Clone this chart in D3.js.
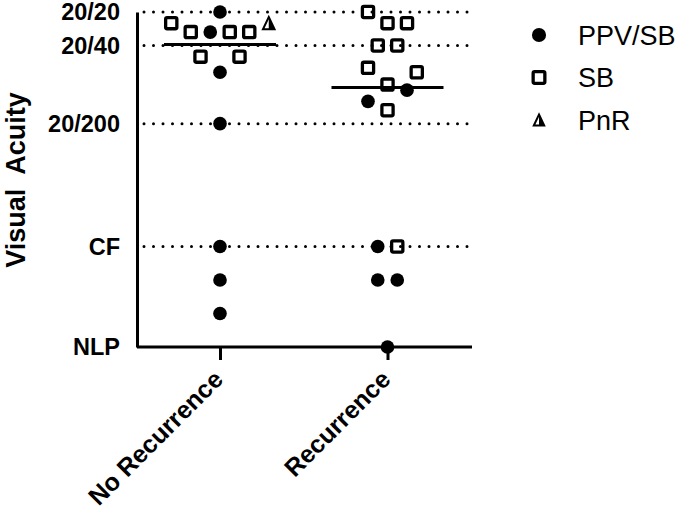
<!DOCTYPE html>
<html>
<head>
<meta charset="utf-8">
<script src="https://cdn.jsdelivr.net/npm/d3@7"></script>
<style>
	body { margin: 0; background: #fff; }
	svg { font-family: "Liberation Sans", Arial, sans-serif; }
</style>
</head>
<body>
<svg id="chart" width="680" height="509"></svg>
<script>
// groups on the x axis
const groups = ["No Recurrence", "Recurrence"];

// acuity scale in logMAR, with the labelled levels
const acuityTicks = [0, 0.3, 1.0, 2.1, 3.0];
const acuityLabels = ["20/20", "20/40", "20/200", "CF", "NLP"];
const gridLevels = [0, 0.3, 1.0, 2.1];

// one row per eye: group, logMAR value, treatment, jitter slot
const pointGroup = [
	"No Recurrence", "No Recurrence", "No Recurrence", "No Recurrence", "No Recurrence",
	"No Recurrence", "No Recurrence", "No Recurrence", "No Recurrence", "No Recurrence",
	"No Recurrence", "No Recurrence", "No Recurrence", "No Recurrence",
	"Recurrence", "Recurrence", "Recurrence", "Recurrence", "Recurrence", "Recurrence",
	"Recurrence", "Recurrence", "Recurrence", "Recurrence", "Recurrence", "Recurrence",
	"Recurrence", "Recurrence", "Recurrence", "Recurrence"
];
const pointValue = [
	0, 0.1, 0.18, 0.18, 0.18, 0.18, 0.1, 0.4, 0.4, 0.54, 1.0, 2.1, 2.4, 2.7,
	0, 0.1, 0.1, 0.3, 0.3, 0.5, 0.54, 0.65, 0.7, 0.8, 0.88, 2.1, 2.1, 2.4, 2.4, 3.0
];
const pointType = [
	"PPV/SB", "SB", "SB", "PPV/SB", "SB", "SB", "PnR", "SB", "SB", "PPV/SB", "PPV/SB", "PPV/SB", "PPV/SB", "PPV/SB",
	"SB", "SB", "SB", "SB", "SB", "SB", "SB", "SB", "PPV/SB", "PPV/SB", "SB", "PPV/SB", "SB", "PPV/SB", "PPV/SB", "PPV/SB"
];
const pointSlot = [
	0, -2.5, -1.5, -0.5, 0.5, 1.5, 2.5, -1, 1, 0, 0, 0, 0, 0,
	-1, 0, 1, -0.5, 0.5, -1, 1.5, 0, 1, -1, 0, -0.5, 0.5, -0.5, 0.5, 0
];

const legendTypes = ["PPV/SB", "SB", "PnR"];

const points = pointValue.map((v, i) => ({
	group: pointGroup[i],
	value: v,
	type: pointType[i],
	slot: pointSlot[i],
}));

const svg = d3.select("#chart");
const plotLeft = 137, plotRight = 472, plotTop = 12, plotBottom = 347;

const y = d3.scaleLinear().domain([0, 3]).range([plotTop, plotBottom]);
const x = d3.scalePoint().domain(groups).range([220, 387.5]);
const jitter = d3.scaleLinear().domain([-1, 1]).range([-19.5, 19.5]);

// dotted reference lines
svg.append("g")
	.selectAll("line")
	.data(gridLevels)
	.join("line")
	.attr("x1", plotLeft + 7)
	.attr("x2", plotRight)
	.attr("y1", (d) => y(d))
	.attr("y2", (d) => y(d))
	.attr("stroke", "#000")
	.attr("stroke-width", 3)
	.attr("stroke-linecap", "round")
	.attr("stroke-dasharray", "0 9.5");

// y axis
const yAxis = svg.append("g")
	.attr("transform", `translate(${plotLeft},0)`)
	.call(d3.axisLeft(y).tickValues(acuityTicks).tickSize(0).tickPadding(17)
		.tickFormat((d, i) => acuityLabels[i]));
yAxis.select(".domain").attr("stroke-width", 3);
yAxis.selectAll("text")
	.attr("font-size", 23.5)
	.attr("font-weight", "bold")
	.attr("fill", "#000")
	.attr("font-family", "Liberation Sans, Arial, sans-serif");

// x axis
const xAxis = svg.append("g")
	.attr("transform", `translate(0,${plotBottom})`)
	.call(d3.axisBottom(x).tickSize(13).tickSizeOuter(0));
xAxis.select(".domain").attr("d", `M${plotLeft},0H${plotRight}`).attr("stroke-width", 3);
xAxis.selectAll(".tick line").attr("stroke-width", 3);
xAxis.selectAll("text")
	.attr("font-size", 25)
	.attr("font-weight", "bold")
	.attr("fill", "#000")
	.attr("font-family", "Liberation Sans, Arial, sans-serif")
	.attr("text-anchor", "end")
	.attr("y", 0)
	.attr("dy", 0)
	.attr("transform", "translate(4,34) rotate(-45)");

// axis title
svg.append("text")
	.attr("transform", "translate(25,180) rotate(-90)")
	.attr("text-anchor", "middle")
	.attr("font-size", 27)
	.attr("font-weight", "bold")
	.attr("xml:space", "preserve")
	.style("white-space", "pre")
	.text("Visual  Acuity");

// medians
svg.append("g")
	.selectAll("line")
	.data(groups)
	.join("line")
	.attr("x1", (g) => x(g) - 56)
	.attr("x2", (g) => x(g) + 56)
	.attr("y1", (g) => y(d3.median(points.filter((p) => p.group === g), (p) => p.value)))
	.attr("y2", (g) => y(d3.median(points.filter((p) => p.group === g), (p) => p.value)))
	.attr("stroke", "#000")
	.attr("stroke-width", 3);

const drawSymbol = (sel, type, size) => {
	if (type === "PPV/SB") {
		sel.append("circle").attr("r", size * 0.47).attr("fill", "#000");
	} else if (type === "SB") {
		const s = size - 3.3;
		sel.append("rect")
			.attr("x", -s / 2).attr("y", -s / 2)
			.attr("width", s).attr("height", s)
			.attr("rx", 1.5)
			.attr("fill", "none")
			.attr("stroke", "#000")
			.attr("stroke-width", 3.3);
	} else {
		const h = size * 0.85, w = size * 0.8;
		sel.append("path")
			.attr("d", `M0,${-h / 2}L${w / 2},${h / 2}H0Z`)
			.attr("fill", "#000");
		sel.append("path")
			.attr("d", `M0,${-h / 2}L${w / 2},${h / 2}H${-w / 2}Z`)
			.attr("fill", "none")
			.attr("stroke", "#000")
			.attr("stroke-width", 2)
			.attr("stroke-linejoin", "miter");
	}
};

// points
svg.append("g")
	.selectAll("g")
	.data(points)
	.join("g")
	.attr("transform", (d) => `translate(${x(d.group) + jitter(d.slot)},${y(d.value)})`)
	.each(function (d) {
		drawSymbol(d3.select(this), d.type, 14.5);
	});

// legend
const legend = svg.append("g")
	.selectAll("g")
	.data(legendTypes)
	.join("g")
	.attr("transform", (d, i) => `translate(539,${35 + i * 42.5})`);
legend.each(function (d) {
	drawSymbol(d3.select(this), d, d === "PnR" ? 13 : 15);
});
legend.append("text")
	.attr("x", 39)
	.attr("dy", "0.36em")
	.attr("font-size", 27)
	.text((d) => d);
</script>
</body>
</html>
